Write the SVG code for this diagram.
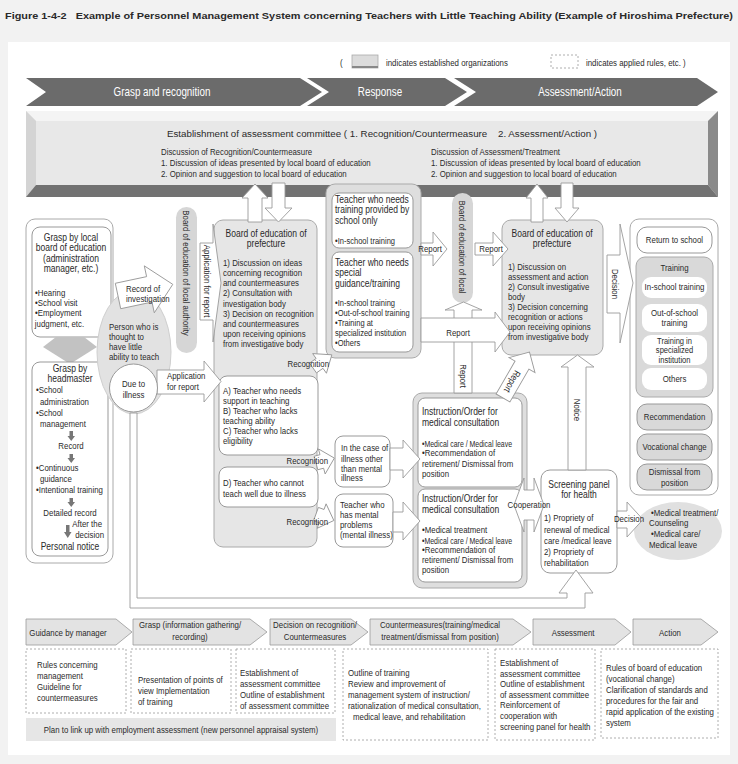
<svg xmlns="http://www.w3.org/2000/svg" width="738" height="764" viewBox="0 0 738 764">
<style>
text{font-family:"Liberation Sans",Arial,sans-serif;font-size:9.6px;fill:#2a2a2a;transform-box:fill-box;transform-origin:0% 50%;transform:scaleX(0.82)}
.h{font-size:10.4px}
.s{font-size:9px}
.b{font-size:9.2px}
.c{text-anchor:middle;transform-origin:50% 50%}
.e{text-anchor:end;transform-origin:100% 50%}
.nx{transform:none}
.wt{fill:#fff;font-size:12px}
.box{fill:#fff;stroke:#999;stroke-width:1}
.gbox{fill:#e6e6e6;stroke:#aaa;stroke-width:1}
.frame{fill:#fff;stroke:#aaa;stroke-width:1}
.gframe{fill:#dedede;stroke:#aaa;stroke-width:1}
.arr{fill:#fff;stroke:#9a9a9a;stroke-width:0.9}
.pill{fill:#d6d6d6}
.dash{fill:#fff;stroke:#999;stroke-width:0.8;stroke-dasharray:2 2}
.chev{fill:#e3e3e3;stroke:#999;stroke-width:0.8}
.band{fill:#6b6b6b}
.darr{fill:#777}
</style>
<rect x="0" y="0" width="738" height="764" fill="#f2f2f2"/>
<text x="5" y="19" class="nx" font-weight="bold" font-size="12" textLength="728" lengthAdjust="spacingAndGlyphs">Figure 1-4-2&#160;&#160; Example of Personnel Management System concerning Teachers with Little Teaching Ability (Example of Hiroshima Prefecture)</text>
<rect x="8" y="42" width="722" height="713" fill="#fff"/>

<g id="legend">
<text x="340" y="66" font-size="11.5">(</text>
<rect x="352" y="55" width="26" height="13" fill="#dcdcdc" stroke="#aaa" stroke-width="0.8"/>
<rect x="352" y="66" width="26" height="2" fill="#888"/>
<text x="386" y="66" font-size="11.5">indicates established organizations</text>
<rect x="551" y="55" width="27" height="13" class="dash"/>
<text x="586" y="66" font-size="11.5">indicates applied rules, etc. )</text>
</g>

<g id="phase-band">
<polygon class="band" points="26,78 300,78 322,92 300,106 26,106 46,92"/>
<polygon class="band" points="307,78 445,78 467,92 445,106 307,106 329,92"/>
<polygon class="band" points="454,78 697,78 718,92 697,106 454,106 476,92"/>
<text class="wt c" x="162" y="96">Grasp and recognition</text>
<text class="wt c" x="380" y="96">Response</text>
<text class="wt c" x="580" y="96">Assessment/Action</text>
</g>

<g id="committee">
<rect x="26" y="111" width="692" height="86" fill="#e8e8e8"/>
<polygon points="26,111 718,111 708,121 36,121" fill="#f4f4f4"/>
<polygon points="26,111 36,121 36,185 26,197" fill="#d4d4d4"/>
<polygon points="718,111 718,197 708,185 708,121" fill="#8a8a8a"/>
<polygon points="26,197 718,197 708,185 36,185" fill="#727272"/>
<text x="167" y="137" class="nx" font-size="11" textLength="430" lengthAdjust="spacingAndGlyphs">Establishment of assessment committee ( 1. Recognition/Countermeasure&#160;&#160;&#160; 2. Assessment/Action )</text>
<text x="161" y="155" font-size="11.7">Discussion of Recognition/Countermeasure</text>
<text x="161" y="166" font-size="10.2">1. Discussion of ideas presented by local board of education</text>
<text x="161" y="177" font-size="10.2">2. Opinion and suggestion to local board of education</text>
<text x="431" y="155" font-size="11.7">Discussion of Assessment/Treatment</text>
<text x="431" y="166" font-size="10.2">1. Discussion of ideas presented by local board of education</text>
<text x="431" y="177" font-size="10.2">2. Opinion and suggestion to local board of education</text>
</g>

<g id="grasp-group">
<rect x="26" y="219" width="87" height="344" rx="9" class="frame"/>
<rect x="32" y="227" width="79" height="110" rx="8" class="box"/>
<text x="71" y="241" class="h c">Grasp by local</text>
<text x="71" y="251.5" class="h c">board of education</text>
<text x="71" y="262" class="h c">(administration</text>
<text x="71" y="272.5" class="h c">manager, etc.)</text>
<text x="35" y="296.5">•Hearing</text>
<text x="35" y="306.5">•School visit</text>
<text x="35" y="316.5">•Employment</text>
<text x="35" y="327.5">judgment, etc.</text>
<polygon points="56,337 84,337 97,347 70,364 43,347" fill="#c2c2c2"/>
<rect x="32" y="362" width="76" height="194" rx="8" class="box"/>
<text x="70" y="372" class="h c">Grasp by</text>
<text x="70" y="382.5" class="h c">headmaster</text>
<text x="36" y="393.5">•School</text>
<text x="40" y="405">administration</text>
<text x="36" y="416.5">•School</text>
<text x="40" y="427">management</text>
<polygon class="darr" points="69.5,431 73,431 73,436 75,436 71.25,441 67.5,436 69.5,436"/>
<text x="71" y="449.5" class="c">Record</text>
<polygon class="darr" points="69.5,454 73,454 73,458 75,458 71.25,463 67.5,458 69.5,458"/>
<text x="36" y="471.5">•Continuous</text>
<text x="40" y="482.5">guidance</text>
<text x="36" y="493.5">•Intentional training</text>
<polygon class="darr" points="69.5,498 73,498 73,502 75,502 71.25,507 67.5,502 69.5,502"/>
<text x="70" y="516.5" class="c">Detailed record</text>
<polygon class="darr" points="66,525 69.5,525 69.5,532 71.5,532 67.75,538 64,532 66,532"/>
<text x="102" y="527.5" class="e">After the</text>
<text x="104" y="538.5" class="e">decision</text>
<text x="70" y="550" class="h c">Personal notice</text>
</g>

<g id="person">
<ellipse cx="134" cy="352" rx="37" ry="62" fill="#e2e2e2" stroke="#cfcfcf"/>
<text x="109" y="330.5">Person who is</text>
<text x="109" y="340.5">thought to</text>
<text x="109" y="350.5">have little</text>
<text x="109" y="360.5">ability to teach</text>
</g>

<g id="local-authority">
<rect x="176" y="207" width="21" height="146" rx="10.5" class="pill"/>
<g transform="translate(183,273) rotate(90)"><text class="c" font-size="10">Board of education of local authority</text></g>
</g>

<g id="board-pref-left">
<rect x="214" y="220" width="103" height="327" rx="9" class="gbox"/>
<text x="266" y="237" class="h c">Board of education of</text>
<text x="266" y="247.5" class="h c">prefecture</text>
<text x="223" y="266.5">1) Discussion on ideas</text>
<text x="223" y="276.5">concerning recognition</text>
<text x="223" y="286.5">and countermeasures</text>
<text x="223" y="296.5">2) Consultation with</text>
<text x="223" y="307">investigation body</text>
<text x="223" y="317">3) Decision on recognition</text>
<text x="223" y="327">and countermeasures</text>
<text x="223" y="337">upon receiving opinions</text>
<text x="223" y="347">from investigative body</text>
<rect x="219" y="376" width="99" height="79" rx="8" class="box"/>
<text x="223" y="394.5">A) Teacher who needs</text>
<text x="223" y="404.5">support in teaching</text>
<text x="223" y="414.5">B) Teacher who lacks</text>
<text x="223" y="424.5">teaching ability</text>
<text x="223" y="434.5">C) Teacher who lacks</text>
<text x="223" y="444.5">eligibility</text>
<rect x="219" y="467" width="99" height="40" rx="8" class="box"/>
<text x="223" y="486.5">D) Teacher who cannot</text>
<text x="223" y="497">teach well due to illness</text>
</g>

<g id="teacher-group">
<rect x="326" y="184" width="95" height="174" rx="9" class="gframe"/>
<rect x="332" y="193" width="81" height="55" rx="7" class="box"/>
<text x="335" y="203" class="h">Teacher who needs</text>
<text x="335" y="213.5" class="h">training provided by</text>
<text x="335" y="224" class="h">school only</text>
<text x="335" y="244.5" class="b">•In-school training</text>
<rect x="332" y="252" width="81" height="100" rx="7" class="box"/>
<text x="335" y="266" class="h">Teacher who needs</text>
<text x="335" y="276.5" class="h">special</text>
<text x="335" y="287" class="h">guidance/training</text>
<text x="335" y="306.5" class="b">•In-school training</text>
<text x="335" y="316.3" class="b">•Out-of-school training</text>
<text x="335" y="326.1" class="b">•Training at</text>
<text x="335" y="335.9" class="b">specialized institution</text>
<text x="335" y="345.7" class="b">•Others</text>
</g>

<g id="local-board">
<rect x="452" y="193" width="21" height="110" rx="10.5" class="pill"/>
<g transform="translate(459,247) rotate(90)"><text class="c" font-size="10">Board of education of local</text></g>
</g>

<g id="board-pref-right">
<rect x="502" y="220" width="101" height="135" rx="9" class="gbox"/>
<text x="552" y="237" class="h c">Board of education of</text>
<text x="552" y="247.5" class="h c">prefecture</text>
<text x="508" y="270.5">1) Discussion on</text>
<text x="508" y="280.5">assessment and action</text>
<text x="508" y="290.5">2) Consult investigative</text>
<text x="508" y="300.5">body</text>
<text x="508" y="310.5">3) Decision concerning</text>
<text x="508" y="320.5">recognition or actions</text>
<text x="508" y="330.5">upon receiving opinions</text>
<text x="508" y="340.5">from investigative body</text>
</g>

<g id="outcomes">
<rect x="630" y="219" width="88" height="276" rx="9" class="frame"/>
<rect x="637" y="227" width="75" height="26" rx="10" class="box"/>
<text x="674.5" y="243.5" class="c">Return to school</text>
<rect x="636" y="257" width="77" height="140" rx="9" fill="#d9d9d9" stroke="#aaa"/>
<text x="674.5" y="271.5" class="c">Training</text>
<rect x="642" y="277" width="65" height="21" rx="9" fill="#fff"/>
<text x="674.5" y="290.5" class="c">In-school training</text>
<rect x="642" y="304" width="65" height="28" rx="9" fill="#fff"/>
<text x="674.5" y="316.5" class="c">Out-of-school</text>
<text x="674.5" y="326.5" class="c">training</text>
<rect x="642" y="335" width="65" height="30" rx="9" fill="#fff"/>
<text x="674.5" y="344" class="c b">Training in</text>
<text x="674.5" y="353.4" class="c b">specialized</text>
<text x="674.5" y="362.8" class="c b">institution</text>
<rect x="642" y="368" width="65" height="22" rx="9" fill="#fff"/>
<text x="674.5" y="382.5" class="c">Others</text>
<rect x="637" y="404" width="75" height="26" rx="10" fill="#d9d9d9" stroke="#999"/>
<text x="674.5" y="420.5" class="c">Recommendation</text>
<rect x="637" y="434" width="75" height="26" rx="10" fill="#d9d9d9" stroke="#999"/>
<text x="674.5" y="450.5" class="c">Vocational change</text>
<rect x="637" y="464" width="75" height="26" rx="10" fill="#d9d9d9" stroke="#999"/>
<text x="674.5" y="475.5" class="c">Dismissal from</text>
<text x="674.5" y="486" class="c">position</text>
</g>

<g id="illness-cases">
<rect x="335" y="436" width="55" height="51" rx="8" class="box"/>
<text x="341" y="451.5">In the case of</text>
<text x="341" y="462">illness other</text>
<text x="341" y="472">than mental</text>
<text x="341" y="481.5">illness</text>
<rect x="335" y="494" width="58" height="53" rx="8" class="box"/>
<text x="340" y="508.5">Teacher who</text>
<text x="340" y="518.5">has mental</text>
<text x="340" y="528.5">problems</text>
<text x="340" y="538.5">(mental illness)</text>
</g>

<g id="instruction-group">
<rect x="413" y="393" width="114" height="195" rx="9" class="gframe"/>
<rect x="418" y="398" width="104" height="89" rx="7" class="box"/>
<text x="422" y="415" class="h">Instruction/Order for</text>
<text x="422" y="426.5" class="h">medical consultation</text>
<text x="422" y="446.5" class="s nx" textLength="90" lengthAdjust="spacingAndGlyphs">•Medical care / Medical leave</text>
<text x="422" y="456.5">•Recommendation of</text>
<text x="422" y="467">retirement/ Dismissal from</text>
<text x="422" y="477.5">position</text>
<rect x="418" y="489" width="104" height="93" rx="7" class="box"/>
<text x="422" y="502" class="h">Instruction/Order for</text>
<text x="422" y="513.5" class="h">medical consultation</text>
<text x="422" y="533.5">•Medical treatment</text>
<text x="422" y="543.5" class="s nx" textLength="90" lengthAdjust="spacingAndGlyphs">•Medical care / Medical leave</text>
<text x="422" y="553.5">•Recommendation of</text>
<text x="422" y="563.5">retirement/ Dismissal from</text>
<text x="422" y="573.5">position</text>
</g>

<g id="screening">
<rect x="541" y="470" width="76" height="103" rx="9" class="box"/>
<text x="579" y="488" class="h c">Screening panel</text>
<text x="579" y="498.5" class="h c">for health</text>
<text x="544" y="521.5">1) Propriety of</text>
<text x="544" y="533">renewal of medical</text>
<text x="544" y="544.5">care /medical leave</text>
<text x="544" y="555.5">2) Propriety of</text>
<text x="544" y="566.5">rehabilitation</text>
</g>

<g id="medical-outcome">
<ellipse cx="678" cy="531" rx="44" ry="29" fill="#e0e0e0"/>
<text x="651" y="516" font-size="10">•Medical treatment/</text>
<text x="649" y="526.5" font-size="10">Counseling</text>
<text x="651" y="537.5" font-size="10">•Medical care/</text>
<text x="649" y="548" font-size="10">Medical leave</text>
</g>

<g id="connectors">
<polygon class="arr" points="130,413 130,608 585,608 585,593 593,593 576,570 559,593 567,593 567,598 137,598 137,413"/>
<g transform="translate(118,296) rotate(-12)"><polygon class="arr" points="0,-13 32,-13 32,-24 56,0 32,24 32,13 0,13"/></g>
<text x="126" y="292">Record of</text>
<text x="126" y="302">investigation</text>
<polygon class="arr" points="157,370 204,370 204,361 221,381.5 204,402 204,394 157,394"/>
<text x="167" y="379.5">Application</text>
<text x="167" y="390.5">for report</text>
<circle cx="133.5" cy="388" r="24" class="box"/>
<text x="133.5" y="387.5" class="c">Due to</text>
<text x="133.5" y="398.5" class="c">illness</text>
<polygon class="arr" points="200,243 213,243 213,224 221,283 213,342 213,320 200,320"/>
<g transform="translate(204,281) rotate(90)"><text class="c">Application for report</text></g>
<polygon class="arr" points="248,222 248,198 242,198 255,184 268,198 262,198 262,222"/>
<polygon class="arr" points="272,183 285,183 285,208 292,208 278.5,222 265,208 272,208"/>
<polygon class="arr" points="531,222 531,198 526,198 537,184 548,198 543,198 543,222"/>
<polygon class="arr" points="561,183 573,183 573,208 579,208 567,222 555,208 561,208"/>
<g transform="translate(313,368) rotate(-35)"><polygon class="arr" points="0,-6 8,-6 8,-12 23,0 8,12 8,6 0,6"/></g>
<text x="329" y="367.5" class="e">Recognition</text>
<g transform="translate(316,463) rotate(-15)"><polygon class="arr" points="0,-7 6,-7 6,-13 19,0 6,13 6,7 0,7"/></g>
<text x="328" y="464.5" class="e">Recognition</text>
<g transform="translate(316,514) rotate(20)"><polygon class="arr" points="0,-7 6,-7 6,-13 19,0 6,13 6,7 0,7"/></g>
<text x="328" y="525.5" class="e">Recognition</text>
<polygon class="arr" points="421,243 433,243 433,232 447,249 433,266 433,255 421,255"/>
<text x="430" y="252.5" class="c">Report</text>
<polygon class="arr" points="475,243 493,243 493,232 508,249 493,266 493,255 475,255"/>
<text x="491" y="252.5" class="c">Report</text>
<polygon class="arr" points="454,393 454,310 445,310 463.5,302 482,310 472,310 472,393"/>
<g transform="translate(460,376) rotate(90)"><text class="c">Report</text></g>
<polygon class="arr" points="421,318 495,318 495,312 510,332 495,352 495,342 421,342"/>
<text x="458" y="336" class="c">Report</text>
<g transform="translate(503,398) rotate(-60)"><polygon class="arr" points="0,-8 38,-8 38,-15 53,0 38,15 38,8 0,8"/>
<g transform="translate(19,0) rotate(180)"><text y="3.5" class="c">Report</text></g></g>
<polygon class="arr" points="607,255 620,255 620,224 633,283 620,343 620,313 607,313"/>
<g transform="translate(612,284) rotate(90)"><text class="c">Decision</text></g>
<polygon class="arr" points="390,448 403,448 403,440 420,459 403,478 403,470 390,470"/>
<polygon class="arr" points="393,512 403,512 403,502 420,521 403,540 403,532 393,532"/>
<polygon class="arr" points="568,470 568,367 561,367 577.5,355 594,367 586,367 586,470"/>
<g transform="translate(574,410) rotate(90)"><text class="c">Notice</text></g>
<polygon class="arr" points="514,505 524,478 524,490 534,490 534,478 544,505 534,532 534,520 524,520 524,532"/>
<text x="529" y="508.5" class="c">Cooperation</text>
<polygon class="arr" points="617,511 627,511 627,502 643,519.5 627,537 627,528 617,528"/>
<text x="629" y="522.5" class="c">Decision</text>
</g>

<g id="process-row">
<polygon class="chev" points="26,619 116,619 132,632 116,645 26,645"/>
<polygon class="chev" points="133,619 250,619 267,632 250,645 133,645"/>
<polygon class="chev" points="270,619 351,619 368,632 351,645 270,645"/>
<polygon class="chev" points="370,619 513,619 531,632 513,645 370,645"/>
<polygon class="chev" points="533,619 615,619 631,632 615,645 533,645"/>
<polygon class="chev" points="633,619 701,619 718,632 701,645 633,645"/>
<text x="68" y="636" class="c">Guidance by manager</text>
<text x="190" y="628.5" class="c">Grasp (information gathering/</text>
<text x="190" y="640.5" class="c">recording)</text>
<text x="315" y="628.5" class="c">Decision on recognition/</text>
<text x="315" y="640.5" class="c">Countermeasures</text>
<text x="440" y="628.5" class="c">Countermeasures(training/medical</text>
<text x="440" y="640.5" class="c">treatment/dismissal from position)</text>
<text x="573" y="636" class="c">Assessment</text>
<text x="670" y="636" class="c">Action</text>
</g>

<g id="rules">
<rect x="26" y="649" width="100" height="64" class="dash"/>
<text x="37" y="668.5">Rules concerning</text>
<text x="37" y="679.5">management</text>
<text x="37" y="690.5">Guideline for</text>
<text x="37" y="701.5">countermeasures</text>
<rect x="131" y="649" width="100" height="64" class="dash"/>
<text x="138" y="683.5">Presentation of points of</text>
<text x="138" y="694.5">view Implementation</text>
<text x="138" y="705">of training</text>
<rect x="236" y="649" width="99" height="64" class="dash"/>
<text x="240" y="676.5">Establishment of</text>
<text x="240" y="687.5">assessment committee</text>
<text x="240" y="698.5">Outline of establishment</text>
<text x="240" y="709">of assessment committee</text>
<rect x="343" y="649" width="145" height="91" class="dash"/>
<text x="348" y="676.5">Outline of training</text>
<text x="348" y="687.5">Review and improvement of</text>
<text x="348" y="698.5">management system of instruction/</text>
<text x="348" y="709.5">rationalization of medical consultation,</text>
<text x="353" y="720.5">medical leave, and rehabilitation</text>
<rect x="495" y="649" width="100" height="91" class="dash"/>
<text x="500" y="666.5">Establishment of</text>
<text x="500" y="677">assessment committee</text>
<text x="500" y="687.5">Outline of establishment</text>
<text x="500" y="698">of assessment committee</text>
<text x="500" y="708.5">Reinforcement of</text>
<text x="500" y="719.5">cooperation with</text>
<text x="500" y="730.5">screening panel for health</text>
<rect x="601" y="649" width="117" height="89" class="dash"/>
<text x="606" y="671.5">Rules of board of education</text>
<text x="606" y="682.5">(vocational change)</text>
<text x="606" y="693.5">Clarification of standards and</text>
<text x="606" y="704.5">procedures for the fair and</text>
<text x="606" y="715.5">rapid application of the existing</text>
<text x="606" y="726.5">system</text>
<rect x="26" y="718" width="310" height="23" fill="#e6e6e6"/>
<text x="181" y="733" class="c">Plan to link up with employment assessment (new personnel appraisal system)</text>
</g>
</svg>
